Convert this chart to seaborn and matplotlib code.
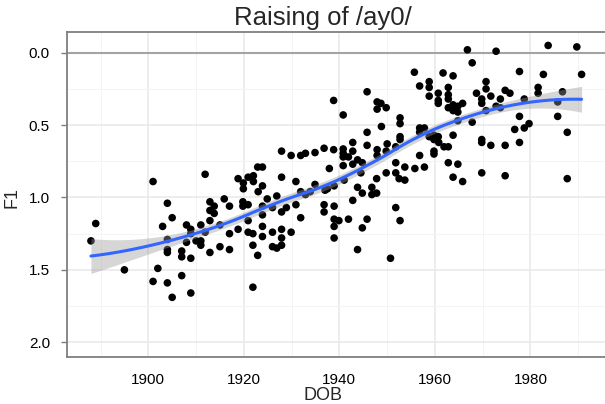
import numpy as np
import pandas as pd
import matplotlib
matplotlib.use("Agg")
import matplotlib.pyplot as plt
import seaborn as sns
from matplotlib.ticker import MultipleLocator

title = "Raising of /ay0/"
x_label = "DOB"
y_label = "F1"
x_ticks = [1900, 1920, 1940, 1960, 1980]
y_ticks = [0.0, 0.5, 1.0, 1.5, 2.0]
y_tick_labels = ["0.0", "0.5", "1.0", "1.5", "2.0"]

dob = [
    1911.9, 1918.8, 1919.9, 1919.9, 1901.0, 1912.9, 1913.8, 1915.9, 1917.0, 1919.8,
    1919.8, 1904.0, 1912.9, 1913.8, 1905.0, 1912.9, 1903.0, 1908.0, 1911.0, 1915.0,
    1908.9, 1908.9, 1911.9, 1917.0, 1918.8, 1888.0, 1889.0, 1904.0, 1908.0, 1910.0,
    1911.0, 1911.0, 1904.0, 1904.0, 1907.0, 1907.0, 1908.9, 1912.9, 1915.0, 1917.0,
    1895.0, 1902.0, 1901.0, 1904.0, 1907.0, 1905.0, 1908.9,
    1920.9, 1922.0, 1922.0, 1927.9, 1930.9, 1923.9, 1923.0, 1924.9, 1926.9, 1920.9,
    1923.9, 1926.0, 1928.9, 1927.9, 1930.9, 1931.9, 1923.9, 1931.9, 1920.9, 1920.9,
    1921.9, 1923.9, 1923.9, 1926.0, 1927.9, 1927.9, 1929.9, 1927.9, 1926.9, 1926.0,
    1921.9, 1922.9, 1921.9, 1934.9, 1937.0, 1937.5, 1938.9, 1941.0, 1944.5, 1936.8,
    1936.8, 1938.9, 1938.9, 1939.9, 1938.9, 1938.9, 1941.9, 1942.8, 1943.8, 1944.8,
    1946.8, 1946.8, 1947.8, 1945.8, 1944.8, 1943.8, 1947.8, 1949.8, 1951.8, 1952.5,
    1953.7, 1951.8, 1952.7, 1950.7, 1933.9, 1932.9,
    1955.7, 1945.8, 1938.8, 1947.9, 1948.7, 1947.9, 1949.8, 1940.8, 1952.7, 1952.7,
    1948.8, 1945.8, 1952.7, 1952.7, 1942.8, 1950.0, 1945.8, 1936.8, 1934.9, 1932.9,
    1931.9, 1929.9, 1927.9, 1938.8, 1940.8, 1940.8, 1940.8, 1942.8, 1941.9, 1947.9,
    1947.9, 1949.8, 1951.8, 1943.8, 1944.8, 1942.8, 1940.8, 1937.9, 1951.8, 1953.7,
    1922.9, 1923.9,
    1966.8, 1972.8, 1983.7, 1989.7, 1967.8, 1961.7, 1963.8, 1977.7, 1982.7, 1990.7,
    1956.8, 1958.8, 1958.8, 1962.8, 1970.7, 1970.7, 1958.8, 1960.7, 1962.8, 1960.7,
    1960.7, 1962.8, 1963.8, 1962.8, 1963.8, 1964.8, 1965.8, 1964.8, 1968.7, 1969.8,
    1969.8, 1971.7, 1973.7, 1974.7, 1975.7, 1970.7, 1972.8, 1973.7, 1978.7, 1981.6,
    1981.6, 1986.7, 1985.7, 1985.7, 1987.7, 1977.7, 1979.7, 1978.7, 1976.7, 1977.7,
    1964.8, 1967.8, 1963.8, 1969.8, 1969.8, 1971.7, 1974.7, 1956.8, 1957.8, 1956.8,
    1958.8, 1959.8, 1960.7, 1959.8, 1960.8, 1962.8, 1961.9, 1959.8, 1959.8, 1956.8,
    1962.8, 1964.8, 1957.8, 1955.8,
    1963.8, 1965.8, 1969.8, 1974.7, 1987.7,
]

f1 = [
    0.84, 0.87, 0.90, 0.94, 0.89, 1.03, 1.06, 1.01, 1.06, 1.03,
    1.06, 1.04, 1.09, 1.11, 1.14, 1.16, 1.20, 1.19, 1.19, 1.19,
    1.22, 1.25, 1.24, 1.25, 1.22, 1.30, 1.18, 1.29, 1.31, 1.30,
    1.30, 1.33, 1.36, 1.38, 1.37, 1.41, 1.42, 1.38, 1.34, 1.36,
    1.50, 1.49, 1.58, 1.59, 1.54, 1.69, 1.66,
    0.86, 0.85, 0.89, 0.86, 0.89, 0.92, 0.96, 1.01, 0.99, 1.05,
    1.06, 1.07, 1.07, 1.10, 1.05, 0.96, 1.12, 1.14, 1.16, 1.24,
    1.25, 1.20, 1.27, 1.24, 1.22, 1.28, 1.24, 1.33, 1.35, 1.34,
    1.33, 1.40, 1.62, 0.91, 0.95, 0.94, 0.92, 0.88, 0.83, 1.05,
    1.10, 1.06, 1.15, 1.16, 1.20, 1.28, 1.15, 1.02, 0.93, 0.97,
    0.93, 0.98, 0.97, 1.15, 1.21, 1.36, 0.87, 0.83, 0.83, 0.87,
    0.88, 1.07, 1.16, 1.42, 0.96, 0.98,
    0.135, 0.27, 0.33, 0.34, 0.35, 0.39, 0.38, 0.43, 0.45, 0.49,
    0.51, 0.55, 0.58, 0.60, 0.62, 0.63, 0.64, 0.66, 0.69, 0.695,
    0.71, 0.71, 0.68, 0.67, 0.665, 0.695, 0.72, 0.68, 0.72, 0.67,
    0.71, 0.68, 0.65, 0.74, 0.76, 0.77, 0.78, 0.80, 0.76, 0.79,
    0.79, 0.79,
    -0.02, -0.01, -0.05, -0.04, 0.07, 0.14, 0.16, 0.13, 0.15, 0.15,
    0.23, 0.20, 0.24, 0.24, 0.20, 0.25, 0.30, 0.28, 0.29, 0.33,
    0.35, 0.32, 0.36, 0.38, 0.40, 0.37, 0.35, 0.41, 0.28, 0.32,
    0.35, 0.30, 0.32, 0.26, 0.28, 0.40, 0.37, 0.38, 0.32, 0.24,
    0.28, 0.27, 0.34, 0.44, 0.55, 0.44, 0.49, 0.52, 0.53, 0.62,
    0.47, 0.48, 0.57, 0.60, 0.62, 0.64, 0.64, 0.52, 0.52, 0.55,
    0.58, 0.57, 0.58, 0.60, 0.62, 0.65, 0.65, 0.68, 0.70, 0.71,
    0.76, 0.77, 0.79, 0.80,
    0.86, 0.89, 0.83, 0.85, 0.87,
]


def loess_fit(x, y, grid, span=0.75):
    """Local quadratic regression with tricube weights (like R's loess)."""
    x = np.asarray(x, float)
    y = np.asarray(y, float)
    n = len(x)
    q = int(np.floor(n * span))

    def weights_row(x0):
        d = np.abs(x - x0)
        h = np.sort(d)[q - 1]
        w = np.clip(1 - (d / h) ** 3, 0, None) ** 3
        X = np.column_stack([np.ones(n), x - x0, (x - x0) ** 2])
        XtW = X.T * w
        return np.linalg.solve(XtW @ X, XtW)[0]

    L = np.array([weights_row(v) for v in x])
    resid = y - L @ y
    IL = np.eye(n) - L
    d1 = np.trace(IL.T @ IL)
    sigma = np.sqrt(np.sum(resid ** 2) / d1)
    fit, se = [], []
    for g in grid:
        l = weights_row(g)
        fit.append(l @ y)
        se.append(sigma * np.sqrt(np.sum(l ** 2)))
    return np.array(fit), np.array(se)


df = pd.DataFrame({"DOB": dob, "F1": f1})
grid = np.linspace(min(dob), max(dob), 80)
fit, se = loess_fit(df["DOB"], df["F1"], grid)
band_mult = 1.1
smooth = pd.DataFrame({"DOB": grid, "F1": fit,
                       "lo": fit - band_mult * se, "hi": fit + band_mult * se})

sns.set_theme(style="whitegrid")
plt.rcParams["font.family"] = ["Liberation Sans", "DejaVu Sans"]

fig = plt.figure(figsize=(6.05, 4.04), dpi=100)
ax = fig.add_axes([67.3 / 605, 1 - 356.7 / 404, 1 - 67.3 / 605, (356.7 - 31.7) / 404])

ax.axhline(0, color="#A3A3A3", lw=1.5, zorder=1.5)
sns.scatterplot(data=df, x="DOB", y="F1", ax=ax, color="black", s=30,
                edgecolor="none", zorder=2)
ax.fill_between(smooth["DOB"], smooth["lo"], smooth["hi"], color="#999999",
                alpha=0.4, lw=0, zorder=3)
sns.lineplot(data=smooth, x="DOB", y="F1", ax=ax, color="#3366FF", lw=2.2,
             zorder=4)

ax.set_xlim(1883.05, 1995.6)
ax.set_ylim(2.1, -0.145)
ax.set_xticks(x_ticks)
ax.set_yticks(y_ticks)
ax.set_yticklabels(y_tick_labels)
ax.xaxis.set_minor_locator(MultipleLocator(10))
ax.yaxis.set_minor_locator(MultipleLocator(0.25))
ax.grid(which="major", color="#E8E8E8", lw=1.1)
ax.grid(which="minor", color="#F4F4F4", lw=0.7)
ax.set_axisbelow(True)

for side in ["left", "top", "bottom"]:
    ax.spines[side].set_color("#7F7F7F")
    ax.spines[side].set_linewidth(1.3)
ax.spines["right"].set_visible(False)

ax.tick_params(axis="y", which="major", length=4.5, width=1, color="#7F7F7F",
               pad=8, labelsize=11, labelcolor="black", left=True)
ax.tick_params(axis="x", which="major", length=0, pad=12, labelsize=11,
               labelcolor="black")
ax.tick_params(which="minor", length=0)

ax.set_xlabel("")
ax.set_ylabel("")
fig.text(323 / 605, 1 - 395 / 404, x_label, ha="center", va="center", fontsize=13)
fig.text(12 / 605, 1 - 197 / 404, y_label, ha="center", va="center", fontsize=13,
         rotation=90)
fig.text(323 / 605, 1 - 18 / 404, title, ha="center", va="center", fontsize=18.5)

fig.savefig("out.png", dpi=100)
